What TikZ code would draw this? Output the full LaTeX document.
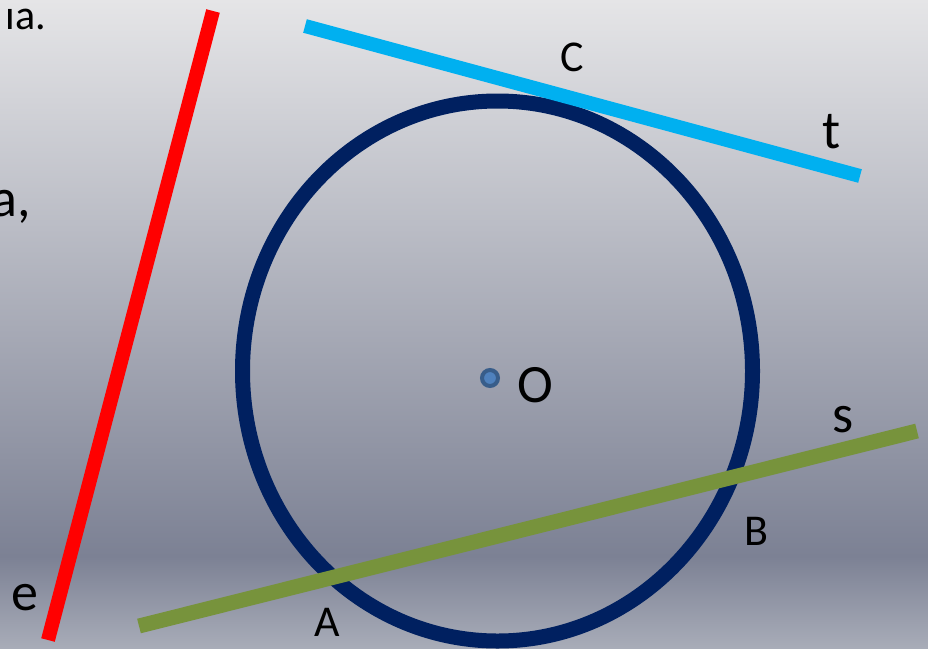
\documentclass[tikz,border=0pt]{standalone}
\usepackage{fontspec}
\setmainfont{Carlito}
\usetikzlibrary{positioning}
\definecolor{bgtop}{HTML}{E5E5E7}
\definecolor{bgmid}{HTML}{B9BCC4}
\definecolor{bgdark}{HTML}{7C8194}
\definecolor{bgbottom}{HTML}{A8ACB8}
\definecolor{navy}{HTML}{002060}
\definecolor{sky}{HTML}{00B0F0}
\definecolor{olive}{HTML}{77933C}
\definecolor{dotring}{HTML}{385D8A}
\definecolor{dotfill}{HTML}{4F81BD}
\tikzset{
  stripe/.style={draw=#1,line width=14pt,line cap=butt},
  lbl/.style={font=\fontsize{44}{52}\selectfont,text=black,inner sep=0pt},
  biglbl/.style={font=\fontsize{54}{62}\selectfont,text=black,inner sep=0pt},
  scrap/.style={font=\fontsize{#1}{#1}\selectfont,text=black,inner sep=0pt,anchor=base east}
}

\begin{document}
\begin{tikzpicture}[x=1pt,y=-1pt]
    \useasboundingbox (0,0) rectangle (928,648);
    \shade[top color=bgtop,middle color=bgmid,bottom color=bgdark] (0,0) rectangle (928,556);
    \shade[top color=bgdark,bottom color=bgbottom] (0,556) rectangle (928,648);

    % cut-off text at the left edge
    \node[scrap=42] (scrapone) at (46,29) {ıa.};
    \node[scrap=54] (scraptwo) at (31,216) {a,};

    % circle and centre
    \draw[navy,line width=15pt] (497.5,371) ellipse [x radius=255,y radius=270];
    \node[circle,fill=dotfill,draw=dotring,line width=4pt,minimum size=16pt,inner sep=0pt] (centre) at (490,378) {};

    % the three lines
    \coordinate (etop) at (213,11);
    \coordinate (ebot) at (48,640);
    \coordinate (tleft) at (305,26);
    \coordinate (tright) at (860,176);
    \coordinate (sleft) at (139,626);
    \coordinate (sright) at (917,431);
    \draw[stripe=red,line width=14pt] (etop) -- (ebot);
    \draw[stripe=sky] (tleft) -- (tright);
    \draw[stripe=olive,line width=15pt] (sleft) -- (sright);

    % labels
    \node[biglbl] (labelO) at (535,385) {O};
    \node[lbl] (labelC) at (572,57) {C};
    \node[biglbl] (labelt) at (832,132) {t};
    \node[biglbl] (labels) at (843,420) {s};
    \node[lbl] (labelB) at (756,531) {B};
    \node[lbl] (labelA) at (327,622) {A};
    \node[biglbl] (labele) at (25,598) {e};
\end{tikzpicture}
\end{document}
